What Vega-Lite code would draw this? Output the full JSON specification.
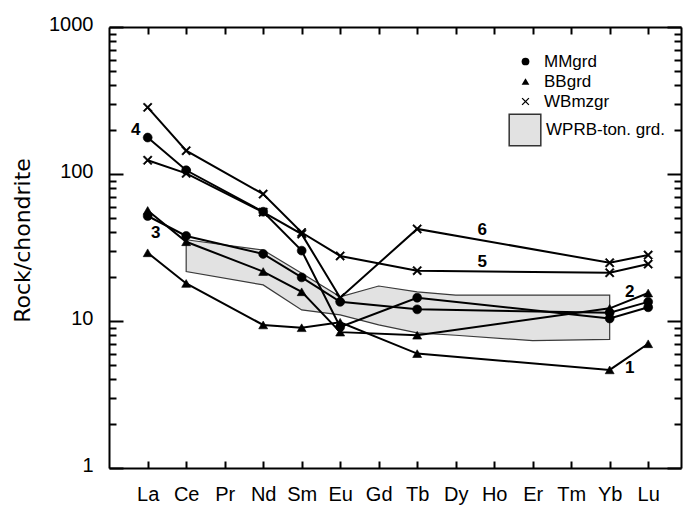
{
  "$schema": "https://vega.github.io/schema/vega-lite/v6.json",
  "width": 572,
  "height": 441,
  "autosize": "none",
  "padding": {"left": 109, "top": 27, "right": 3, "bottom": 40},
  "background": "white",
  "config": {
    "view": {"stroke": null},
    "font": "Liberation Sans",
    "axis": {"domainColor": "black", "domainWidth": 2, "ticks": true, "tickColor": "black", "tickWidth": 2, "labelColor": "black", "grid": false, "labelFont": "Liberation Sans"},
    "axisBand": {"ticks": true},
    "axisPoint": {"ticks": true},
    "axisDiscrete": {"ticks": true}
  },
  "datasets": {
    "ree": [
      {"sample": "1", "rock": "BBgrd", "element": "La", "Z": 57, "value": 29.1},
      {"sample": "1", "rock": "BBgrd", "element": "Ce", "Z": 58, "value": 18.0},
      {"sample": "1", "rock": "BBgrd", "element": "Nd", "Z": 60, "value": 9.4},
      {"sample": "1", "rock": "BBgrd", "element": "Sm", "Z": 62, "value": 9.0},
      {"sample": "1", "rock": "BBgrd", "element": "Eu", "Z": 63, "value": 9.8},
      {"sample": "1", "rock": "BBgrd", "element": "Tb", "Z": 65, "value": 6.0},
      {"sample": "1", "rock": "BBgrd", "element": "Yb", "Z": 70, "value": 4.65},
      {"sample": "1", "rock": "BBgrd", "element": "Lu", "Z": 71, "value": 7.0},
      {"sample": "2", "rock": "BBgrd", "element": "La", "Z": 57, "value": 56.5},
      {"sample": "2", "rock": "BBgrd", "element": "Ce", "Z": 58, "value": 34.6},
      {"sample": "2", "rock": "BBgrd", "element": "Nd", "Z": 60, "value": 21.7},
      {"sample": "2", "rock": "BBgrd", "element": "Sm", "Z": 62, "value": 15.8},
      {"sample": "2", "rock": "BBgrd", "element": "Eu", "Z": 63, "value": 8.4},
      {"sample": "2", "rock": "BBgrd", "element": "Tb", "Z": 65, "value": 8.0},
      {"sample": "2", "rock": "BBgrd", "element": "Yb", "Z": 70, "value": 12.2},
      {"sample": "2", "rock": "BBgrd", "element": "Lu", "Z": 71, "value": 15.5},
      {"sample": "3", "rock": "MMgrd", "element": "La", "Z": 57, "value": 51.8},
      {"sample": "3", "rock": "MMgrd", "element": "Ce", "Z": 58, "value": 37.9},
      {"sample": "3", "rock": "MMgrd", "element": "Nd", "Z": 60, "value": 28.6},
      {"sample": "3", "rock": "MMgrd", "element": "Sm", "Z": 62, "value": 19.8},
      {"sample": "3", "rock": "MMgrd", "element": "Eu", "Z": 63, "value": 13.5},
      {"sample": "3", "rock": "MMgrd", "element": "Tb", "Z": 65, "value": 12.0},
      {"sample": "3", "rock": "MMgrd", "element": "Yb", "Z": 70, "value": 11.4},
      {"sample": "3", "rock": "MMgrd", "element": "Lu", "Z": 71, "value": 13.5},
      {"sample": "4", "rock": "MMgrd", "element": "La", "Z": 57, "value": 177},
      {"sample": "4", "rock": "MMgrd", "element": "Ce", "Z": 58, "value": 106},
      {"sample": "4", "rock": "MMgrd", "element": "Nd", "Z": 60, "value": 55.4},
      {"sample": "4", "rock": "MMgrd", "element": "Sm", "Z": 62, "value": 30.1},
      {"sample": "4", "rock": "MMgrd", "element": "Eu", "Z": 63, "value": 9.1},
      {"sample": "4", "rock": "MMgrd", "element": "Tb", "Z": 65, "value": 14.4},
      {"sample": "4", "rock": "MMgrd", "element": "Yb", "Z": 70, "value": 10.4},
      {"sample": "4", "rock": "MMgrd", "element": "Lu", "Z": 71, "value": 12.4},
      {"sample": "5", "rock": "WBmzgr", "element": "La", "Z": 57, "value": 284},
      {"sample": "5", "rock": "WBmzgr", "element": "Ce", "Z": 58, "value": 144},
      {"sample": "5", "rock": "WBmzgr", "element": "Nd", "Z": 60, "value": 73},
      {"sample": "5", "rock": "WBmzgr", "element": "Sm", "Z": 62, "value": 40},
      {"sample": "5", "rock": "WBmzgr", "element": "Eu", "Z": 63, "value": 27.7},
      {"sample": "5", "rock": "WBmzgr", "element": "Tb", "Z": 65, "value": 22.0},
      {"sample": "5", "rock": "WBmzgr", "element": "Yb", "Z": 70, "value": 21.3},
      {"sample": "5", "rock": "WBmzgr", "element": "Lu", "Z": 71, "value": 24.4},
      {"sample": "6", "rock": "WBmzgr", "element": "La", "Z": 57, "value": 124},
      {"sample": "6", "rock": "WBmzgr", "element": "Ce", "Z": 58, "value": 101},
      {"sample": "6", "rock": "WBmzgr", "element": "Nd", "Z": 60, "value": 55},
      {"sample": "6", "rock": "WBmzgr", "element": "Sm", "Z": 62, "value": 39},
      {"sample": "6", "rock": "WBmzgr", "element": "Eu", "Z": 63, "value": 14.4},
      {"sample": "6", "rock": "WBmzgr", "element": "Tb", "Z": 65, "value": 42.3},
      {"sample": "6", "rock": "WBmzgr", "element": "Yb", "Z": 70, "value": 24.9},
      {"sample": "6", "rock": "WBmzgr", "element": "Lu", "Z": 71, "value": 28.1}
    ],
    "band": [
      {"element": "Ce", "Z": 58, "hi": 35.7, "lo": 21.7},
      {"element": "Nd", "Z": 60, "hi": 30.4, "lo": 17.6},
      {"element": "Sm", "Z": 62, "hi": 21.1, "lo": 11.9},
      {"element": "Eu", "Z": 63, "hi": 14.6, "lo": 11.0},
      {"element": "Gd", "Z": 64, "hi": 17.3, "lo": 9.4},
      {"element": "Tb", "Z": 65, "hi": 15.8, "lo": 8.3},
      {"element": "Dy", "Z": 66, "hi": 15.0, "lo": 8.0},
      {"element": "Er", "Z": 68, "hi": 15.0, "lo": 7.35},
      {"element": "Yb", "Z": 70, "hi": 15.0, "lo": 7.5}
    ]
  },
  "resolve": {"axis": {"x": "independent", "y": "independent"}},
  "layer": [
    {
      "data": {"name": "band"},
      "mark": {"type": "area", "orient": "vertical", "fill": "#e2e2e2", "stroke": "#3a3a3a", "strokeWidth": 1.2, "opacity": 1},
      "encoding": {
        "x": {"field": "element", "type": "ordinal",
          "scale": {"type": "point", "domain": ["La","Ce","Pr","Nd","Sm","Eu","Gd","Tb","Dy","Ho","Er","Tm","Yb","Lu"], "padding": 0.9286, "align": 0.541},
          "axis": {"orient": "bottom", "title": null, "ticks": true, "labelAngle": 0, "labelFontSize": 20, "labelPadding": 33, "labelBaseline": "middle",
            "tickSize": {"condition": {"test": "datum.value == 'La'", "value": -7}, "value": -7}}},
        "y": {"field": "hi", "type": "quantitative",
          "scale": {"type": "log", "domain": [1, 1000], "nice": false},
          "axis": {"orient": "left", "title": "Rock/chondrite", "titleFont": "DejaVu Sans", "titleFontSize": 22, "titleFontWeight": "normal", "titleColor": "black",
            "titleAngle": -90, "titleX": -87, "titleY": 213, "titleAlign": "center", "titleBaseline": "middle",
            "values": [1,2,3,4,5,6,7,8,9,10,20,30,40,50,60,70,80,90,100,200,300,400,500,600,700,800,900,1000],
            "labelExpr": "indexof([1,10,100,1000], datum.value) >= 0 ? datum.value + '' : ''",
            "labelFontSize": 20, "labelPadding": 30, "labelOffset": -3,
            "tickSize": {"condition": {"test": "indexof([1,10,100,1000], datum.value) >= 0", "value": -14}, "value": -7}}},
        "y2": {"field": "lo"},
        "fill": {"datum": "WPRB-ton. grd.", "type": "nominal", "scale": {"range": ["#e2e2e2"]},
          "legend": {"orient": "none", "legendX": 399, "legendY": 86, "title": null, "symbolType": "square", "symbolSize": 1000,
            "symbolStrokeColor": "#333", "symbolStrokeWidth": 1.5, "labelFontSize": 17, "labelFont": "Liberation Sans", "labelColor": "black", "labelOffset": 4}}
      }
    },
    {
      "data": {"name": "ree"},
      "mark": {"type": "line", "color": "black", "strokeWidth": 2},
      "encoding": {
        "x": {"field": "element", "type": "ordinal",
          "axis": {"orient": "top", "title": null, "labelExpr": "''", "ticks": true, "tickColor": "black", "tickWidth": 2,
            "tickSize": {"condition": {"test": "datum.value == 'La'", "value": -7}, "value": -7}}},
        "y": {"field": "value", "type": "quantitative",
          "axis": {"orient": "right", "title": null, "labelExpr": "''", "ticks": true, "tickColor": "black", "tickWidth": 2,
            "values": [1,2,3,4,5,6,7,8,9,10,20,30,40,50,60,70,80,90,100,200,300,400,500,600,700,800,900,1000],
            "tickSize": {"condition": {"test": "indexof([1,10,100,1000], datum.value) >= 0", "value": -14}, "value": -7}}},
        "detail": {"field": "sample"},
        "order": {"field": "Z"}
      }
    },
    {
      "data": {"name": "ree"},
      "mark": {"type": "point", "filled": true, "color": "black", "stroke": "black", "strokeWidth": 0.6, "size": 80, "opacity": 1},
      "encoding": {
        "x": {"field": "element", "type": "ordinal", "axis": null},
        "y": {"field": "value", "type": "quantitative", "axis": null},
        "shape": {"field": "rock", "type": "nominal",
          "scale": {"domain": ["MMgrd", "BBgrd", "WBmzgr"], "range": ["circle", "triangle-up", "M-1,-0.76L-0.76,-1L1,0.76L0.76,1ZM-1,0.76L0.76,-1L1,-0.76L-0.76,1Z"]},
          "legend": {"orient": "none", "legendX": 408, "legendY": 26, "title": null, "symbolSize": 60, "symbolFillColor": "black",
            "symbolStrokeColor": "black", "symbolStrokeWidth": 0.6, "symbolOpacity": 1, "labelFontSize": 17, "labelFont": "Liberation Sans", "labelColor": "black",
            "labelOffset": 10, "rowPadding": 2}}
      }
    },
    {
      "data": {"values": [
        {"label": "4", "element": "La", "value": 199},
        {"label": "6", "element": "Ho", "value": 41.6},
        {"label": "5", "element": "Ho", "value": 25.2}
      ]},
      "mark": {"type": "text", "fontSize": 17, "fontWeight": "bold", "color": "black", "dx": -12, "baseline": "middle"},
      "encoding": {
        "x": {"field": "element", "type": "ordinal", "axis": null},
        "y": {"field": "value", "type": "quantitative", "axis": null},
        "text": {"field": "label"}
      }
    },
    {
      "data": {"values": [
        {"label": "3", "element": "La", "value": 39.7}
      ]},
      "mark": {"type": "text", "fontSize": 17, "fontWeight": "bold", "color": "black", "dx": 8, "baseline": "middle"},
      "encoding": {
        "x": {"field": "element", "type": "ordinal", "axis": null},
        "y": {"field": "value", "type": "quantitative", "axis": null},
        "text": {"field": "label"}
      }
    },
    {
      "data": {"values": [
        {"label": "2", "element": "Yb", "value": 15.8},
        {"label": "1", "element": "Yb", "value": 4.79}
      ]},
      "mark": {"type": "text", "fontSize": 17, "fontWeight": "bold", "color": "black", "dx": 20, "baseline": "middle"},
      "encoding": {
        "x": {"field": "element", "type": "ordinal", "axis": null},
        "y": {"field": "value", "type": "quantitative", "axis": null},
        "text": {"field": "label"}
      }
    }
  ]
}
